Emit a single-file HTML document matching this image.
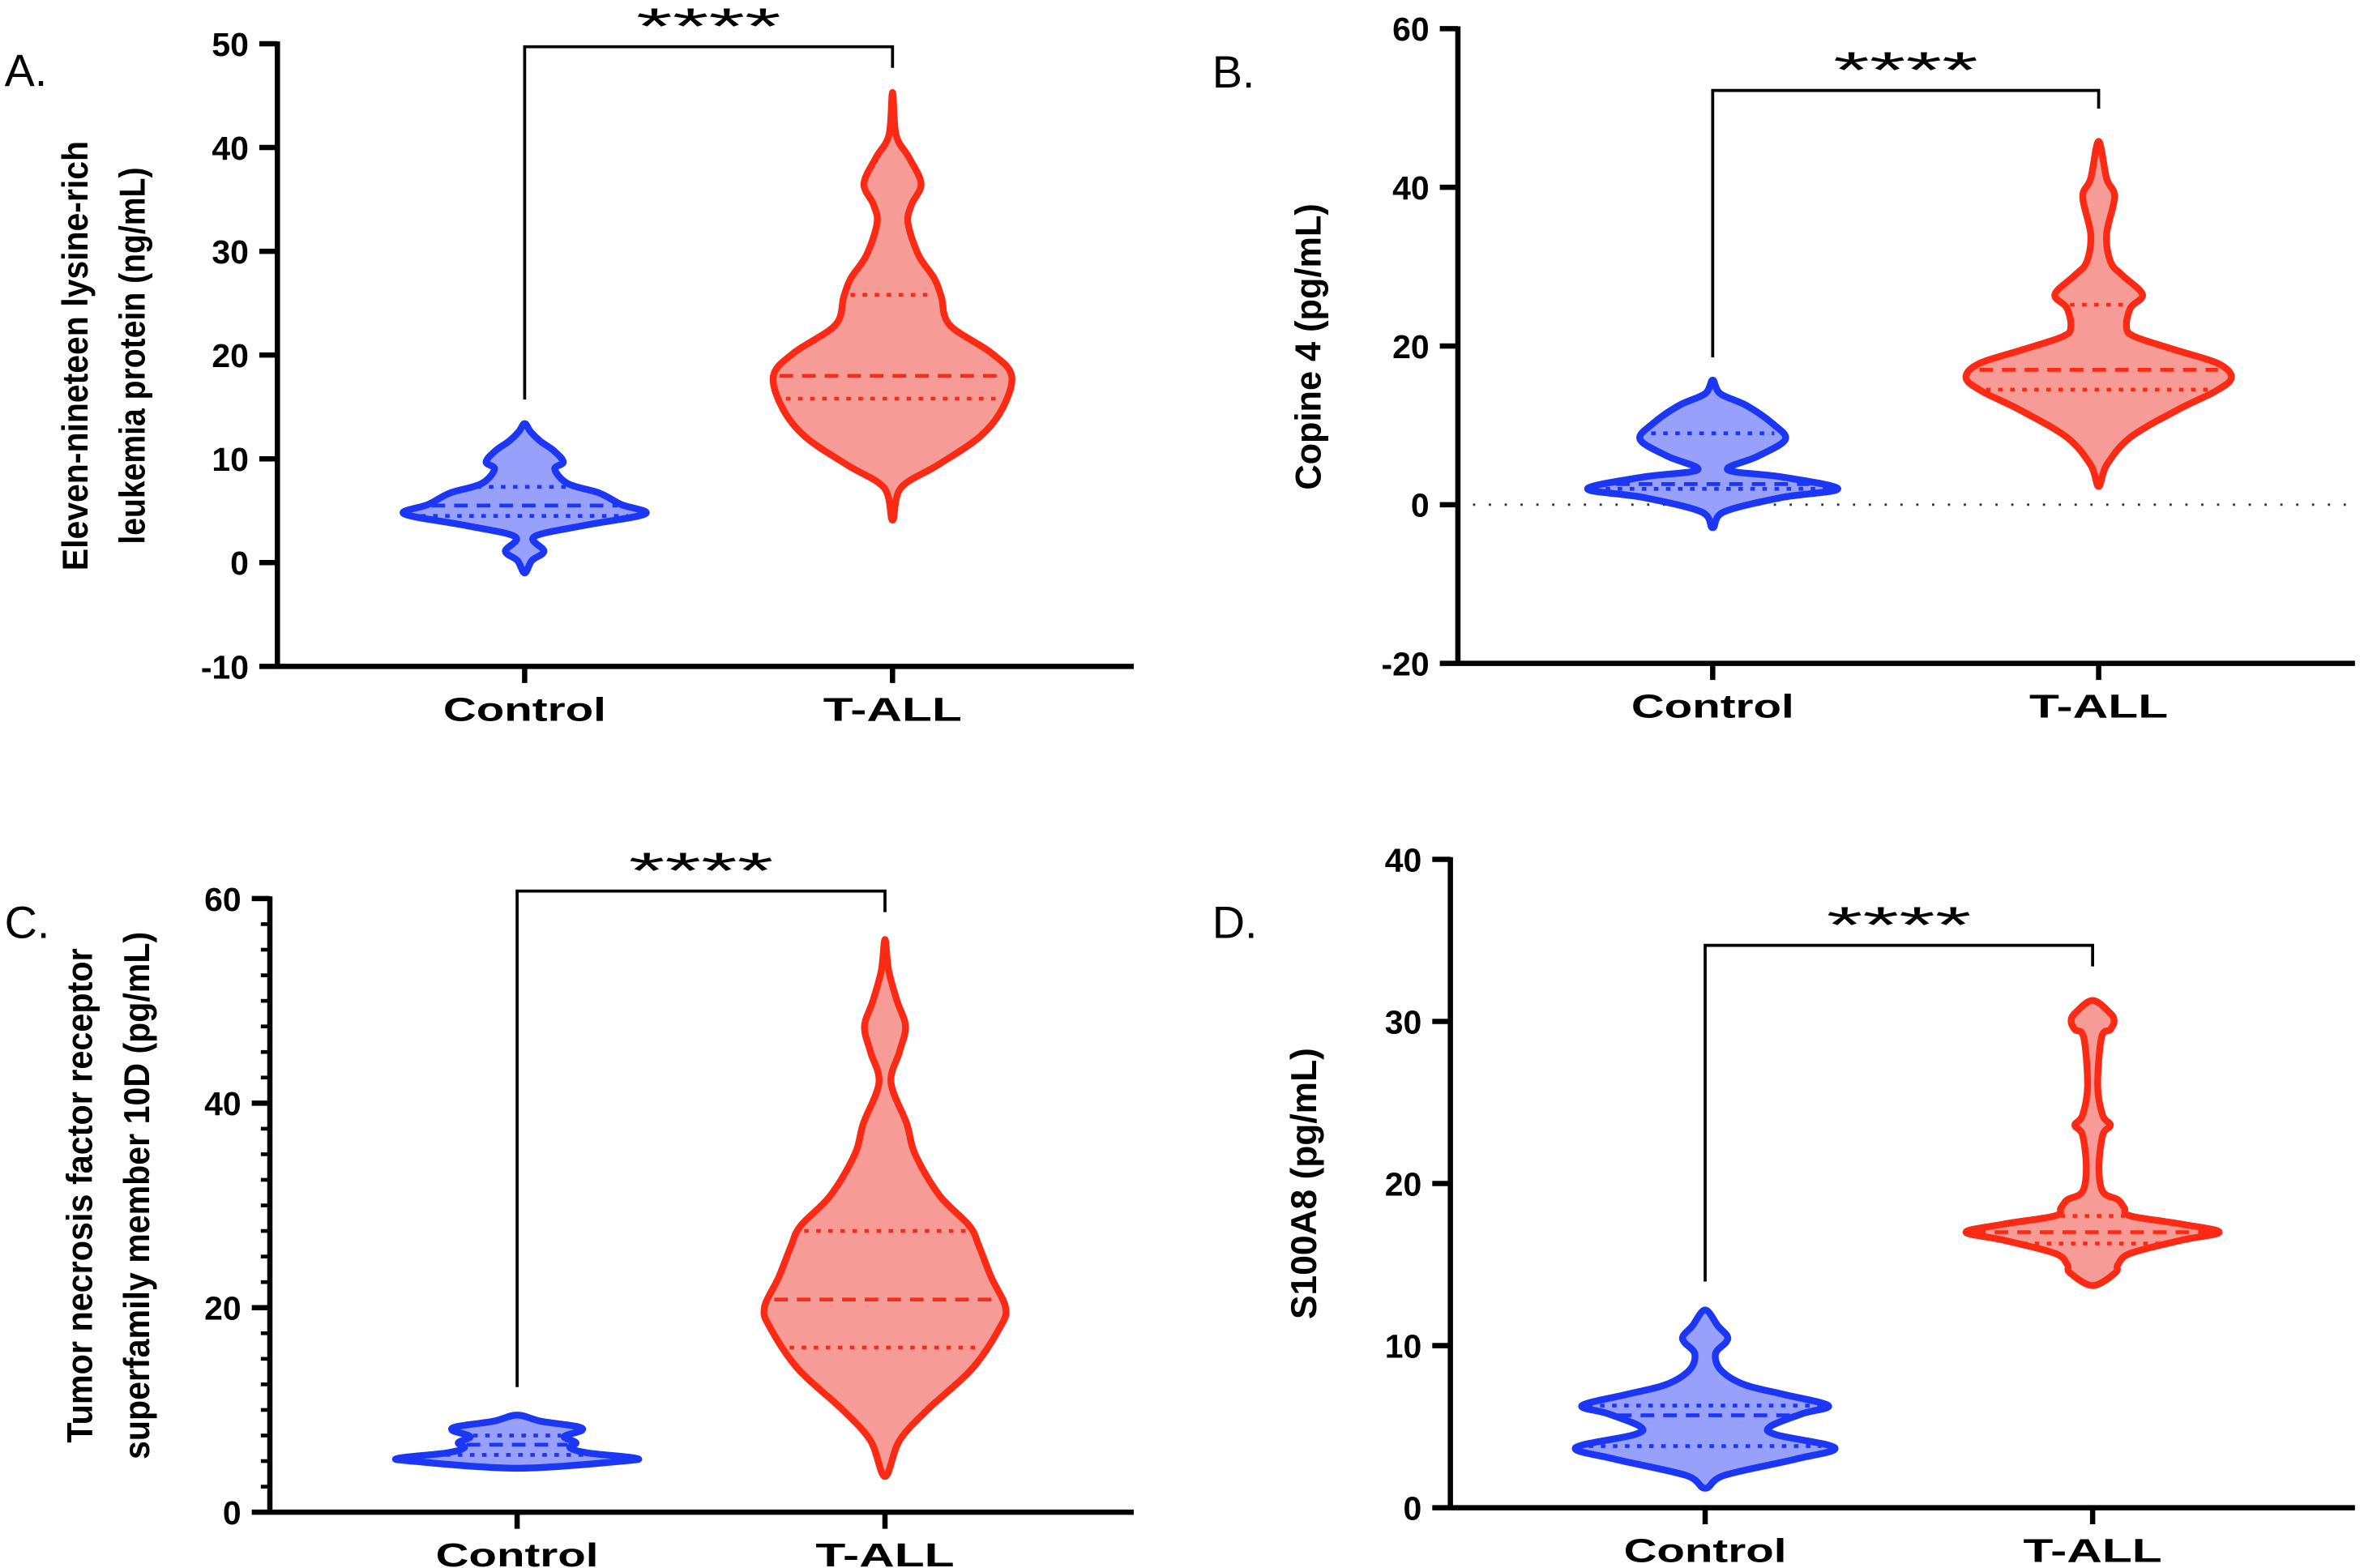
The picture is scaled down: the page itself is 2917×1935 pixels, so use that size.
<!DOCTYPE html>
<html><head><meta charset="utf-8">
<style>
html,body{margin:0;padding:0;background:#fff;}
svg{display:block;}
text{font-family:"Liberation Sans",Arial,sans-serif;}
.nar{font-family:"Liberation Sans Narrow","Liberation Sans",sans-serif;}
</style></head>
<body>
<svg id="fig" width="2917" height="1935" viewBox="0 0 1568 1040" preserveAspectRatio="none" xmlns="http://www.w3.org/2000/svg"></svg>
<script>
const categories = ["Control", "T-ALL"];
// Panel A
const aTicks = [50, 40, 30, 20, 10, 0, -10];
const aControlVals = [-1, 0.2, 1.1, 2.5, 3.6, 4.7, 5.6, 6.7, 7.6, 9.0, 9.7, 10.8, 11.7, 12.6, 13.4];
const aControlDens = [0, 0.06, 0.16, 0.08, 0.5, 1, 0.8, 0.62, 0.36, 0.25, 0.32, 0.24, 0.13, 0.05, 0];
const aControlQ = [4.5, 5.5, 7.3];
const aTallVals = [4.1, 7.2, 9.4, 12.1, 14.8, 18, 20.2, 22.9, 25.6, 27.4, 29.6, 32.7, 34.5, 36.5, 39, 41.2, 45.3];
const aTallDens = [0, 0.07, 0.38, 0.73, 0.92, 1, 0.83, 0.48, 0.41, 0.35, 0.22, 0.13, 0.16, 0.24, 0.14, 0.03, 0];
const aTallQ = [15.8, 18, 25.8];
// Panel B
const bTicks = [60, 40, 20, 0, -20];
const bControlVals = [-2.9, -0.9, 0.9, 2.0, 3.5, 4.4, 6.1, 8.2, 10.2, 12.5, 14.0, 15.7];
const bControlDens = [0, 0.09, 0.55, 1, 0.55, 0.12, 0.36, 0.58, 0.48, 0.27, 0.06, 0];
const bControlQ = [2.0, 2.6, 9.0];
const bTallVals = [2.3, 5.0, 8.5, 12, 14.3, 16, 17.8, 19.5, 21.2, 22.4, 24.8, 26.5, 28.9, 30.6, 34.1, 38.8, 41.1, 45.8];
const bTallDens = [0, 0.06, 0.24, 0.6, 0.88, 1, 0.9, 0.58, 0.27, 0.21, 0.24, 0.33, 0.18, 0.09, 0.06, 0.12, 0.06, 0];
const bTallQ = [14.5, 17, 25.2];
// Panel C
const cTicks = [60, 40, 20, 0];
const cControlVals = [4.3, 5.0, 5.3, 5.8, 6.3, 6.8, 7.4, 8.0, 8.4, 8.9, 9.5];
const cControlDens = [0, 0.9, 1, 0.6, 0.45, 0.5, 0.4, 0.55, 0.5, 0.2, 0];
const cControlQ = [5.6, 6.6, 7.5];
const cTallVals = [3.5, 7, 10, 14, 18, 20, 23, 26, 28, 31, 35, 38, 42, 45, 47.5, 50, 53, 56];
const cTallDens = [0, 0.12, 0.35, 0.72, 0.95, 1, 0.88, 0.78, 0.7, 0.45, 0.25, 0.18, 0.05, 0.12, 0.17, 0.1, 0.03, 0];
const cTallQ = [16.1, 20.8, 27.5];
// Panel D
const dTicks = [40, 30, 20, 10, 0];
const dControlVals = [1.2, 2, 3, 3.7, 4.5, 5, 5.8, 6.3, 7, 7.6, 8.5, 9.5, 10.2, 10.6, 11.2, 12.2];
const dControlDens = [0, 0.15, 0.7, 1, 0.55, 0.5, 0.75, 0.95, 0.6, 0.3, 0.12, 0.08, 0.16, 0.17, 0.1, 0];
const dControlQ = [3.8, 5.7, 6.3];
const dTallVals = [13.7, 14.5, 15, 15.7, 16.5, 17, 17.5, 18, 18.5, 19, 19.5, 21, 23, 23.6, 24.2, 26, 29, 29.5, 30, 30.5, 31.3];
const dTallDens = [0, 0.18, 0.2, 0.3, 0.7, 1, 0.7, 0.3, 0.25, 0.2, 0.08, 0.05, 0.08, 0.14, 0.08, 0.04, 0.07, 0.14, 0.17, 0.14, 0];
const dTallQ = [16.3, 17, 18];

const NS = "http://www.w3.org/2000/svg";
const svg = document.getElementById("fig");
function mk(tag, attrs, parent) {
  const e = document.createElementNS(NS, tag);
  for (const k in attrs) e.setAttribute(k, attrs[k]);
  (parent || svg).appendChild(e);
  return e;
}
function interp(vals, dens, v) {
  for (let i = 0; i < vals.length - 1; i++) {
    if (v >= vals[i] && v <= vals[i + 1]) {
      const t = (v - vals[i]) / (vals[i + 1] - vals[i]);
      return dens[i] + t * (dens[i + 1] - dens[i]);
    }
  }
  return 0;
}
function smooth(pts) {
  const n = pts.length;
  let d = "M" + pts[0][0].toFixed(2) + "," + pts[0][1].toFixed(2);
  for (let i = 0; i < n; i++) {
    const p0 = pts[(i - 1 + n) % n], p1 = pts[i], p2 = pts[(i + 1) % n], p3 = pts[(i + 2) % n];
    const c1 = [p1[0] + (p2[0] - p0[0]) / 6, p1[1] + (p2[1] - p0[1]) / 6];
    const c2 = [p2[0] - (p3[0] - p1[0]) / 6, p2[1] - (p3[1] - p1[1]) / 6];
    d += "C" + c1[0].toFixed(2) + "," + c1[1].toFixed(2) + " " + c2[0].toFixed(2) + "," + c2[1].toFixed(2) + " " + p2[0].toFixed(2) + "," + p2[1].toFixed(2);
  }
  return d + "Z";
}

function panel(cfg) {
  const g = mk("g", {});
  
  
  const ticks = cfg.ticks;
  const vmax = Math.max(...ticks), vmin = Math.min(...ticks);
  const ys = v => cfg.yTop + (vmax - v) / (vmax - vmin) * (cfg.yBot - cfg.yTop);
  const xs = i => cfg.xCats[i];

  if (cfg.zeroLine) {
    const zl = mk("line", {x1: cfg.axX + 10, x2: cfg.axEnd, y1: ys(0), y2: ys(0), stroke: "#333", "stroke-width": 1.5, "stroke-dasharray": "1.5 9"}, g);
    
    
  }
  if (cfg.minor) {
    for (let v = vmin; v <= vmax + 0.001; v += cfg.minor) {
      const mt = mk("line", {x1: cfg.axX - 6, x2: cfg.axX, y1: ys(v), y2: ys(v), stroke: "#000", "stroke-width": 2.5}, g);
      
      
    }
  }
  const ya = mk("line", {x1: cfg.axX, x2: cfg.axX, y1: ys(vmax) - 1.5, y2: ys(vmin) + 1.5, stroke: "#000", "stroke-width": 3.5}, g);
  
  
  const xa = mk("line", {x1: cfg.axX, x2: cfg.axEnd, y1: ys(vmin), y2: ys(vmin), stroke: "#000", "stroke-width": 3.5}, g);
  
  
  ticks.forEach(t => {
    const tk = mk("line", {x1: cfg.axX - 12, x2: cfg.axX, y1: ys(t), y2: ys(t), stroke: "#000", "stroke-width": 3.5}, g);
    
    
    const tl = mk("text", {x: cfg.axX - 19, y: ys(t) + 8, "text-anchor": "end", "font-size": 22, "font-weight": "bold"}, g);
    tl.textContent = t;
    
    
  });
  categories.forEach((c, i) => {
    const tk = mk("line", {x1: xs(i), x2: xs(i), y1: ys(vmin), y2: ys(vmin) + 11, stroke: "#000", "stroke-width": 3.5}, g);
    
    
    const tl = mk("text", {x: xs(i), y: ys(vmin) + 36, "text-anchor": "middle", "font-size": 22, "font-weight": "bold", textLength: i === 0 ? 108 : 92, lengthAdjust: "spacingAndGlyphs"}, g);
    tl.textContent = c;
    
    
  });

  const series = [
    {vals: cfg.cVals, dens: cfg.cDens, q: cfg.cQ, stroke: "#1b36f5", fill: "#97a0fb", name: "control"},
    {vals: cfg.tVals, dens: cfg.tDens, q: cfg.tQ, stroke: "#fb2a14", fill: "#f79b97", name: "t-all"}
  ];
  series.forEach((s, i) => {
    const cx = xs(i), H = cfg.half[i];
    const right = s.vals.map((v, k) => [cx + s.dens[k] * H, ys(v)]);
    const left = s.vals.slice(1, -1).map((v, k) => [cx - s.dens[k + 1] * H, ys(v)]).reverse();
    const pts = right.concat(left);
    const p = mk("path", {d: smooth(pts), fill: s.fill, stroke: s.stroke, "stroke-width": 4.5, "stroke-linejoin": "round"}, g);
    
    
    s.q.forEach((qv, k) => {
      const w = interp(s.vals, s.dens, qv) * H - 4;
      const ql = mk("line", {x1: cx - w, x2: cx + w, y1: ys(qv), y2: ys(qv), stroke: s.stroke, "stroke-width": 2.5, "stroke-dasharray": k === 1 ? "9 6" : "3 5"}, g);
      
      
    });
  });

  const br = mk("path", {d: `M${xs(0)},${cfg.brL} V${cfg.brTop} H${xs(1)} V${cfg.brR}`, fill: "none", stroke: "#000", "stroke-width": 2}, g);
  
  
  const st = mk("text", {x: (xs(0) + xs(1)) / 2, y: cfg.brTop - 2, "text-anchor": "middle", "font-size": 34, textLength: 96, lengthAdjust: "spacingAndGlyphs"}, g);
  st.textContent = "****";
  
  

  const tg = mk("text", {transform: `translate(${cfg.titleX},${cfg.titleY}) rotate(-90)`, "text-anchor": "middle", "font-size": 24, "font-weight": "bold", class: "nar"}, g);
  
  
  cfg.title.forEach((line, k) => {
    const ts = mk("tspan", {x: 0, y: k * 38 - (cfg.title.length - 1) * 19, textLength: cfg.titleLen[k], lengthAdjust: "spacingAndGlyphs"}, tg);
    ts.textContent = line;
  });
  const lab = mk("text", {x: cfg.labX, y: cfg.labY, "font-size": 30, class: "nar"}, g);
  lab.textContent = cfg.label;
  
  
}

panel({id: "a", ticks: aTicks, yTop: 29, yBot: 442, axX: 184, axEnd: 752, xCats: [348, 592], half: [80, 79],
  cVals: aControlVals, cDens: aControlDens, cQ: aControlQ, tVals: aTallVals, tDens: aTallDens, tQ: aTallQ,
  brTop: 31, brL: 265, brR: 45, title: ["Eleven-nineteen lysine-rich", "leukemia protein (ng/mL)"], titleLen: [285, 250],
  titleX: 77, titleY: 236, label: "A.", labX: 3, labY: 57});
panel({id: "b", ticks: bTicks, yTop: 19, yBot: 440, axX: 967, axEnd: 1562, xCats: [1136, 1392], half: [83, 88], zeroLine: true,
  cVals: bControlVals, cDens: bControlDens, cQ: bControlQ, tVals: bTallVals, tDens: bTallDens, tQ: bTallQ,
  brTop: 60, brL: 237, brR: 72, title: ["Copine 4 (pg/mL)"], titleLen: [190],
  titleX: 876, titleY: 230, label: "B.", labX: 804, labY: 58});
panel({id: "c", ticks: cTicks, yTop: 596, yBot: 1003, axX: 179, axEnd: 752, xCats: [343, 587], half: [78, 80], minor: 2.5,
  cVals: cControlVals, cDens: cControlDens, cQ: cControlQ, tVals: cTallVals, tDens: cTallDens, tQ: cTallQ,
  brTop: 591, brL: 920, brR: 605, title: ["Tumor necrosis factor receptor", "superfamily member 10D (pg/mL)"], titleLen: [328, 350],
  titleX: 80, titleY: 793, label: "C.", labX: 3, labY: 622});
panel({id: "d", ticks: dTicks, yTop: 570, yBot: 1000, axX: 962, axEnd: 1562, xCats: [1131, 1388], half: [86, 84],
  cVals: dControlVals, cDens: dControlDens, cQ: dControlQ, tVals: dTallVals, tDens: dTallDens, tQ: dTallQ,
  brTop: 627, brL: 850, brR: 641, title: ["S100A8 (pg/mL)"], titleLen: [180],
  titleX: 873, titleY: 785, label: "D.", labX: 804, labY: 622});
</script>
</body></html>
